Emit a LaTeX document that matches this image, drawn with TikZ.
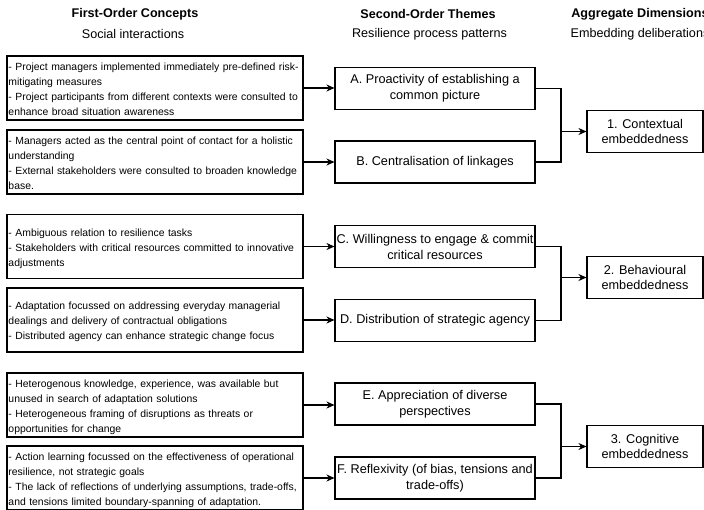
\documentclass[tikz,border=0pt]{standalone}
\usepackage{fontspec}
\setmainfont{Liberation Sans}
\usetikzlibrary{arrows.meta}
% one unbreakable line per row, left aligned, set slightly low in its box
\newcommand{\conceptlines}[1]{\noindent\raisebox{-1.5pt}[\height][\depth]{\begin{tabular}{@{}l@{}}#1\end{tabular}}}
\begin{document}
\begin{tikzpicture}[x=1pt,y=-1pt,
  box/.style={draw=black, line width=1.05pt, inner sep=0pt, fill=white},
  concept/.style={box, minimum width=296pt, minimum height=64pt, text width=293pt,
    font=\fontsize{10.4}{15}\selectfont},
  theme/.style={box, minimum width=200pt, minimum height=42pt, align=center, font=\fontsize{12.7}{16}\selectfont},
  dimension/.style={box, minimum width=116pt, minimum height=42pt, align=center, font=\fontsize{12.7}{15}\selectfont},
  heading/.style={font=\bfseries\fontsize{12.6}{15}\selectfont, inner sep=0pt},
  subheading/.style={font=\fontsize{12.6}{15}\selectfont, inner sep=0pt},
  link/.style={line width=1.05pt, -{Stealth[length=8pt,width=7pt,inset=2.5pt]}},
  joinline/.style={line width=1.05pt}]
\useasboundingbox (0,0) rectangle (704,509);

% column headings
\node[heading] (h1) at (135,14) {First-Order Concepts};
\node[subheading] (s1) at (133,34) {Social interactions};
\node[heading] (h2) at (428,14) {Second-Order Themes};
\node[subheading] (s2) at (429.5,34) {Resilience process patterns};
\node[heading] (h3) at (640,14) {Aggregate Dimensions};
\node[subheading] (s3) at (640,34) {Embedding deliberations};

% first-order concepts
\node[concept] (c1) at (155,88) {\conceptlines{- Project managers implemented immediately pre-defined risk-\\mitigating measures\\- Project participants from different contexts were consulted to\\enhance broad situation awareness}};
\node[concept] (c2) at (155,162) {\conceptlines{- Managers acted as the central point of contact for a holistic\\understanding\\- External stakeholders were consulted to broaden knowledge\\base.}};
\node[concept] (c3) at (155,246.5) {\conceptlines{- Ambiguous relation to resilience tasks\\- Stakeholders with critical resources committed to innovative\\adjustments}};
\node[concept] (c4) at (155,320) {\conceptlines{- Adaptation focussed on addressing everyday managerial\\dealings and delivery of contractual obligations\\- Distributed agency can enhance strategic change focus}};
\node[concept] (c5) at (155,405) {\conceptlines{- Heterogenous knowledge, experience, was available but\\unused in search of adaptation solutions\\- Heterogeneous framing of disruptions as threats or\\opportunities for change}};
\node[concept] (c6) at (155,478) {\conceptlines{- Action learning focussed on the effectiveness of operational\\resilience, not strategic goals\\- The lack of reflections of underlying assumptions, trade-offs,\\and tensions limited boundary-spanning of adaptation.}};

% second-order themes
\node[theme] (tA) at (435,88.5) {A. Proactivity of establishing a\\common picture};
\node[theme] (tB) at (435,162) {B. Centralisation of linkages};
\node[theme] (tC) at (435,246.5) {C. Willingness to engage \& commit\\critical resources};
\node[theme] (tD) at (435,320.5) {D. Distribution of strategic agency};
\node[theme] (tE) at (435,404) {E. Appreciation of diverse\\perspectives};
\node[theme] (tF) at (435,478) {F. Reflexivity (of bias, tensions and\\trade-offs)};

% aggregate dimensions
\node[dimension] (d1) at (645,131.5) {1. Contextual\\embeddedness};
\node[dimension] (d2) at (645,277.5) {2. Behavioural\\embeddedness};
\node[dimension] (d3) at (645,446.5) {3. Cognitive\\embeddedness};

% junction points
\coordinate (j1) at (561,131.5);
\coordinate (j2) at (561,277.5);
\coordinate (j3) at (561,446.5);

% concepts to themes
\draw[link] (c1.east) -- (c1.east -| tA.west);
\draw[link] (c2.east) -- (c2.east -| tB.west);
\draw[link] (c3.east) -- (c3.east -| tC.west);
\draw[link] (c4.east) -- (c4.east -| tD.west);
\draw[link] (c5.east) -- (c5.east -| tE.west);
\draw[link] (c6.east) -- (c6.east -| tF.west);

% themes to dimensions
\draw[joinline] (tA.east) -| (j1) |- (tB.east);
\draw[link] (j1) -- (d1.west);
\draw[joinline] (tC.east) -| (j2) |- (tD.east);
\draw[link] (j2) -- (d2.west);
\draw[joinline] (tE.east) -| (j3) |- (tF.east);
\draw[link] (j3) -- (d3.west);
\end{tikzpicture}
\end{document}
